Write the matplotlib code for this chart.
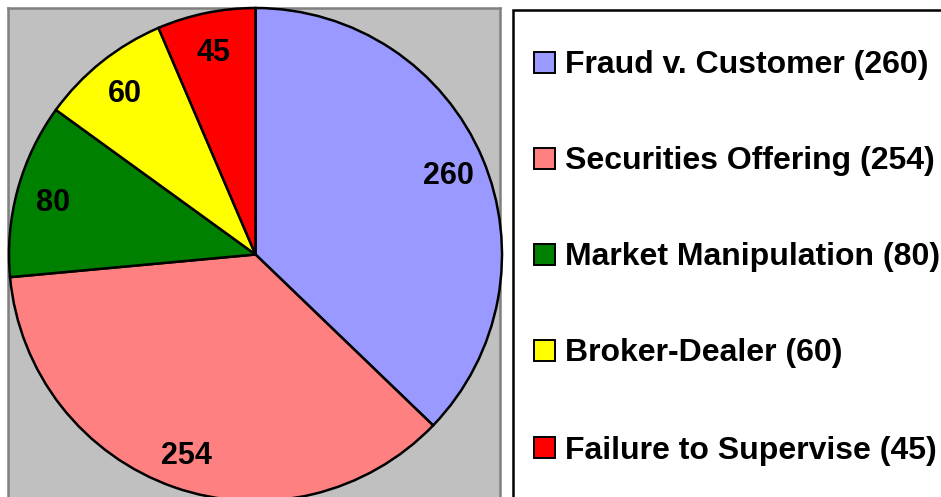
import matplotlib
matplotlib.use("Agg")
import matplotlib.pyplot as plt
from matplotlib.patches import Rectangle

categories = ["Fraud v. Customer", "Securities Offering", "Market Manipulation",
              "Broker-Dealer", "Failure to Supervise"]
values = [260, 254, 80, 60, 45]
colors = ["#9999FF", "#FF8080", "#008000", "#FFFF00", "#FF0000"]

plt.rcParams['font.family'] = ['Liberation Sans', 'DejaVu Sans']

W, H = 941, 497
fig = plt.figure(figsize=(W / 100, H / 100), dpi=100)

# pixel geometry of the pie plot area
left_px, right_px, top_px, bottom_px = 8, 500, 8, 510
cx, cy, R = 255.5, 254.5, 246.5

ax = fig.add_axes([left_px / W, 1 - bottom_px / H,
                   (right_px - left_px) / W, (bottom_px - top_px) / H])
ax.set_facecolor("#C0C0C0")
wedges, texts = ax.pie(values, colors=colors, startangle=90, counterclock=False,
                       radius=1, center=(0, 0),
                       labels=[str(v) for v in values], labeldistance=0.85,
                       wedgeprops=dict(edgecolor="black", linewidth=1.8),
                       textprops=dict(fontsize=22, fontweight="bold", color="black"),
                       frame=True)
for w in wedges:
    w.set_clip_on(False)
for t in texts:
    t.set_ha("center")
    t.set_va("center_baseline")
ax.set_aspect("auto")
ax.set_xlim((left_px - cx) / R, (right_px - cx) / R)
ax.set_ylim((cy - bottom_px) / R, (cy - top_px) / R)
ax.set_xticks([])
ax.set_yticks([])
for s in ax.spines.values():
    s.set_color("#808080")
    s.set_linewidth(1.8)
    s.set_zorder(0)

# legend box
lg_left, lg_top = 513, 10
fig.patches.append(Rectangle((lg_left / W, -0.05), (W + 20 - lg_left) / W,
                             1 - lg_top / H + 0.05, transform=fig.transFigure,
                             facecolor="white", edgecolor="black", linewidth=1.8))
row_y = [62, 158, 254, 350, 447]
for cat, val, col, y in zip(categories, values, colors, row_y):
    fig.patches.append(Rectangle((534 / W, 1 - (y + 11) / H), 21 / W, 21 / H,
                                 transform=fig.transFigure, facecolor=col,
                                 edgecolor="black", linewidth=1.4))
    fig.text(565 / W, 1 - y / H, f"{cat} ({val})", fontsize=23,
             fontweight="bold", va="center_baseline", ha="left")

fig.savefig("out.png", dpi=100)
